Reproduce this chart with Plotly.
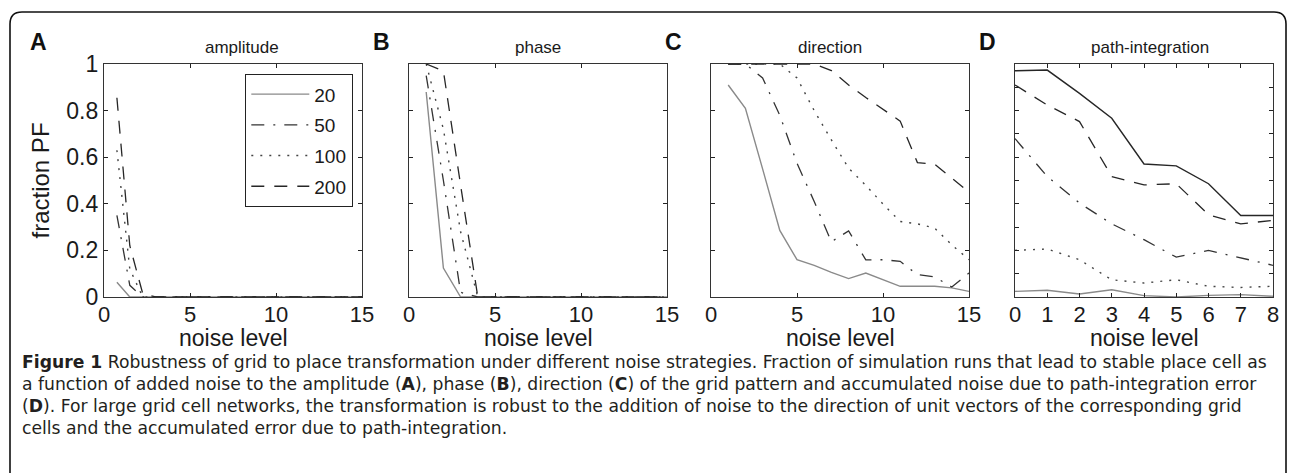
import plotly.graph_objects as go

# ---------------- data ----------------
series_names = ["20", "50", "100", "200"]

# Panel A: amplitude noise
amp_x = [0.75 * k for k in range(1, 21)]
amp_20 = [0.063] + [0.0] * 19
amp_50 = [0.35, 0.05] + [0.0] * 18
amp_100 = [0.63, 0.12] + [0.0] * 18
amp_200 = [0.855, 0.22, 0.015] + [0.0] * 17

# Panel B: phase noise
pha_x = list(range(1, 16))
pha_20 = [0.88, 0.124] + [0.0] * 13
pha_50 = [0.95, 0.50, 0.02] + [0.0] * 12
pha_100 = [1.0, 0.72, 0.28] + [0.0] * 12
pha_200 = [1.0, 0.97, 0.48] + [0.0] * 12

# Panel C: direction noise
dir_x = list(range(1, 16))
dir_20 = [0.91, 0.81, 0.55, 0.286, 0.16, 0.136, 0.106, 0.079, 0.103, 0.074, 0.046, 0.046, 0.046, 0.039, 0.024]
dir_50 = [1.0, 1.0, 0.94, 0.78, 0.574, 0.41, 0.237, 0.284, 0.159, 0.16, 0.153, 0.096, 0.086, 0.043, 0.103]
dir_100 = [1.0, 1.0, 1.0, 1.0, 0.94, 0.80, 0.674, 0.553, 0.479, 0.399, 0.324, 0.314, 0.296, 0.224, 0.16]
dir_200 = [1.0, 1.0, 1.0, 1.0, 1.0, 1.0, 0.972, 0.91, 0.856, 0.806, 0.755, 0.577, 0.57, 0.51, 0.45]

# Panel D: path-integration error
pi_x = list(range(0, 9))
pi_top = [0.971, 0.974, 0.874, 0.767, 0.571, 0.563, 0.486, 0.35, 0.35]
pi_200 = [0.91, 0.824, 0.753, 0.517, 0.481, 0.486, 0.353, 0.314, 0.329]
pi_50 = [0.68, 0.517, 0.403, 0.314, 0.246, 0.171, 0.2, 0.167, 0.136]
pi_100 = [0.2, 0.206, 0.16, 0.074, 0.06, 0.074, 0.046, 0.041, 0.046]
pi_20 = [0.024, 0.029, 0.013, 0.031, 0.006, 0.0, 0.007, 0.01, 0.003]

y_ticks = [0, 0.2, 0.4, 0.6, 0.8, 1]
y_tick_text = ["0", "0.2", "0.4", "0.6", "0.8", "1"]
x_ticks_15 = [0, 5, 10, 15]
x_ticks_8 = list(range(0, 9))
panel_titles = ["amplitude", "phase", "direction", "path-integration"]
panel_letters = ["A", "B", "C", "D"]
caption_lines = [
    "<b>Figure 1</b> Robustness of grid to place transformation under different noise strategies. Fraction of simulation runs that lead to stable place cell as",
    "a function of added noise to the amplitude (<b>A</b>), phase (<b>B</b>), direction (<b>C</b>) of the grid pattern and accumulated noise due to path-integration error",
    "(<b>D</b>). For large grid cell networks, the transformation is robust to the addition of noise to the direction of unit vectors of the corresponding grid",
    "cells and the accumulated error due to path-integration.",
]

# ---------------- layout helpers ----------------
W, H = 1290, 473


def px(x):
    return x / W


def py(y):
    return 1 - y / H


styles = {
    "20": dict(color="#8a8a8a", width=1.4, dash="solid"),
    "50": dict(color="#333333", width=1.3, dash="13px,9px,2px,9px"),
    "100": dict(color="#444444", width=1.4, dash="2px,7px"),
    "200": dict(color="#262626", width=1.3, dash="13px,10px"),
    "top": dict(color="#262626", width=1.4, dash="solid"),
}

fig = go.Figure()

panel_px = [(104, 362), (409, 667), (711, 969), (1015, 1273)]
y_top, y_bot = 64, 297

panels = [
    (amp_x, {"20": amp_20, "50": amp_50, "100": amp_100, "200": amp_200}),
    (pha_x, {"20": pha_20, "50": pha_50, "100": pha_100, "200": pha_200}),
    (dir_x, {"20": dir_20, "50": dir_50, "100": dir_100, "200": dir_200}),
    (pi_x, {"top": pi_top, "200": pi_200, "50": pi_50, "100": pi_100, "20": pi_20}),
]

tick_font = dict(family="Liberation Sans, Arial, sans-serif", size=22, color="#1a1a1a")

for i, (xs, ser) in enumerate(panels):
    n = "" if i == 0 else str(i + 1)
    order = ["20", "50", "100", "200"] if i < 3 else ["top", "200", "50", "100", "20"]
    for name in order:
        st = styles[name]
        fig.add_trace(go.Scatter(
            x=xs, y=ser[name], mode="lines",
            name=name if name != "top" else "all",
            legendgroup=name,
            showlegend=(i == 0),
            line=dict(color=st["color"], width=st["width"], dash=st["dash"]),
            xaxis="x" + n, yaxis="y" + n,
            cliponaxis=True,
        ))
    x0, x1 = panel_px[i]
    is_d = i == 3
    fig.update_layout(**{
        "xaxis" + n: dict(
            domain=[px(x0), px(x1)], anchor="y" + n,
            range=[0, 8] if is_d else [0, 15],
            tickvals=x_ticks_8 if is_d else x_ticks_15,
            ticks="inside", ticklen=4, tickwidth=1, tickcolor="#222",
            showline=True, linecolor="#333", linewidth=1.4, mirror="ticks",
            showgrid=False, zeroline=False, tickfont=tick_font, fixedrange=True,
            ticklabelstandoff=-3,
        ),
        "yaxis" + n: dict(
            domain=[py(y_bot), py(y_top)], anchor="x" + n,
            range=[0, 1],
            tickvals=[k / 10 for k in range(11)] if is_d else y_ticks,
            ticktext=y_tick_text if i == 0 else None,
            showticklabels=(i == 0),
            ticks="inside", ticklen=4, tickwidth=1, tickcolor="#222",
            showline=True, linecolor="#333", linewidth=1.4, mirror="ticks",
            showgrid=False, zeroline=False,
            tickfont=dict(family="Liberation Sans, Arial, sans-serif", size=23, color="#1a1a1a"),
            fixedrange=True,
        ),
    })

annotations = []
title_cx = [242, 538, 830, 1150]
letter_cx = [38, 381, 674, 987]
for i in range(4):
    annotations.append(dict(
        x=px(title_cx[i]), y=py(47), xref="paper", yref="paper",
        text=panel_titles[i], showarrow=False, xanchor="center", yanchor="middle",
        font=dict(family="Liberation Sans, Arial, sans-serif", size=17, color="#1a1a1a"),
    ))
    annotations.append(dict(
        x=px(letter_cx[i]), y=py(42), xref="paper", yref="paper",
        text="<b>%s</b>" % panel_letters[i], showarrow=False, xanchor="center", yanchor="middle",
        font=dict(family="Liberation Sans, Arial, sans-serif", size=23, color="#111"),
    ))
    cx = (panel_px[i][0] + panel_px[i][1]) / 2
    annotations.append(dict(
        x=px(cx), y=py(338), xref="paper", yref="paper",
        text="noise level", showarrow=False, xanchor="center", yanchor="middle",
        font=dict(family="Liberation Sans, Arial, sans-serif", size=23, color="#1a1a1a"),
    ))

annotations.append(dict(
    x=px(40), y=py((y_top + y_bot) / 2), xref="paper", yref="paper",
    text="fraction PF", showarrow=False, textangle=-90,
    xanchor="center", yanchor="middle",
    font=dict(family="Liberation Sans, Arial, sans-serif", size=24, color="#1a1a1a"),
))

cap_y = [362, 384, 406, 428]
for line, yy in zip(caption_lines, cap_y):
    annotations.append(dict(
        x=px(20), y=py(yy), xref="paper", yref="paper",
        text=line, showarrow=False, xanchor="left", yanchor="middle",
        font=dict(family="DejaVu Sans, sans-serif", size=17.2, color="#231f20"),
    ))


def P(x, y):
    return "%.5f,%.5f" % (px(x), py(y))


r = 12
border = ("M " + P(10, 560) + " L " + P(10, 12 + r) + " Q " + P(10, 12) + " " + P(10 + r, 12)
          + " L " + P(1286 - r, 12) + " Q " + P(1286, 12) + " " + P(1286, 12 + r)
          + " L " + P(1286, 560))

fig.update_layout(
    width=W, height=H,
    margin=dict(l=0, r=0, t=0, b=0, autoexpand=False),
    paper_bgcolor="white", plot_bgcolor="white",
    annotations=annotations,
    shapes=[dict(type="path", path=border, xref="paper", yref="paper",
                 line=dict(color="#111", width=1.6))],
    legend=dict(
        x=px(245), y=py(74), xanchor="left", yanchor="top",
        bordercolor="#222", borderwidth=1.3, bgcolor="white",
        font=dict(family="Liberation Sans, Arial, sans-serif", size=19, color="#1a1a1a"),
        tracegroupgap=3, itemwidth=58,
    ),
    showlegend=True,
)

fig.write_html(
    "out.html",
    config={"displayModeBar": False},
    post_script="document.body.style.margin='0px';document.body.style.overflow='hidden';",
)
